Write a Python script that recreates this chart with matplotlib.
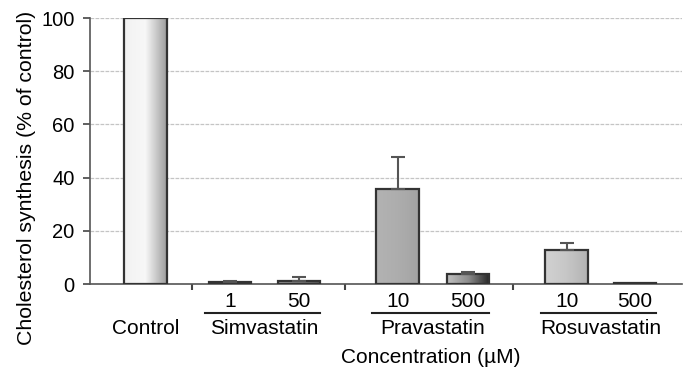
import numpy as np
import matplotlib.pyplot as plt
from matplotlib.colors import LinearSegmentedColormap

plt.rcParams['font.family'] = ['Liberation Sans', 'DejaVu Sans']

# data
groups = ['Simvastatin', 'Pravastatin', 'Rosuvastatin']
conc_labels = ['1', '50', '10', '500', '10', '500']
values = [100, 0.7, 1.3, 35.7, 3.7, 12.8, 0.3]
errors = [0, 0.4, 1.2, 12.0, 0.9, 2.7, 0]
positions = [0.80, 2.03, 3.03, 4.46, 5.48, 6.91, 7.90]
group_ticks = [1.48, 3.70, 6.13]
# gradient (left, mid, right) grey levels per bar
shades = [(0.95, 0.97, 0.62), (0.55, 0.5, 0.35), (0.6, 0.5, 0.35),
          (0.70, 0.68, 0.64), (0.75, 0.55, 0.15), (0.82, 0.78, 0.70), (0.4, 0.4, 0.4)]

fig = plt.figure(figsize=(6.88, 3.73), dpi=100)
ax = fig.add_axes([90/688, (373-284)/373, 592/688, 266/373])
ax.set_xlim(0, 8.58)
ax.set_ylim(0, 100)

w = 0.62
for x, v, e, sh in zip(positions, values, errors, shades):
    cmap = LinearSegmentedColormap.from_list('g', [(sh[0],)*3, (sh[1],)*3, (sh[2],)*3])
    grad = np.linspace(0, 1, 64).reshape(1, -1)
    im = ax.imshow(grad, cmap=cmap, extent=[x - w/2, x + w/2, 0, v],
                   aspect='auto', zorder=2, vmin=0, vmax=1)
    bar = ax.bar(x, v, width=w, facecolor='none', edgecolor='#333333', linewidth=1.6, zorder=3)
    im.set_clip_path(bar.patches[0])
    if e > 0:
        ax.errorbar(x, v, yerr=[[0], [e]], fmt='none', ecolor='#555555',
                    elinewidth=1.5, capsize=5, capthick=1.5, zorder=4)

ax.set_aspect('auto')
ax.set_yticks([0, 20, 40, 60, 80, 100])
ax.tick_params(axis='y', labelsize=14.5, length=5, width=1.2, color='#444444', pad=6)
ax.yaxis.grid(True, color='#c4c4c4', linewidth=0.9, linestyle=(0, (3, 1)))
ax.set_axisbelow(True)
ax.set_xticks(group_ticks)
ax.set_xticklabels([])
ax.tick_params(axis='x', length=4, width=1.5, color='#444444', direction='out')
for s in ['top', 'right']:
    ax.spines[s].set_visible(False)
for s in ['left', 'bottom']:
    ax.spines[s].set_color('#555555')
    ax.spines[s].set_linewidth(1.2)

ax.set_ylabel('Cholesterol synthesis (% of control)', fontsize=15.3)
ax.yaxis.set_label_coords(-0.092, 0.40)

# category labels
tr = ax.get_xaxis_transform()
for x, lab in zip(positions[1:], conc_labels):
    ax.text(x, -0.03, lab, transform=tr, ha='center', va='top', fontsize=15)
ax.text(positions[0], -0.132, 'Control', transform=tr, ha='center', va='top', fontsize=15)
for i, g in enumerate(groups):
    x0, x1 = positions[1 + 2*i], positions[2 + 2*i]
    ax.plot([x0 - 0.37, x1 + 0.3], [-0.11, -0.11], transform=tr, color='#222222',
            linewidth=1.5, clip_on=False)
    ax.text((x0 + x1) / 2, -0.132, g, transform=tr, ha='center', va='top', fontsize=15)
ax.text(0.576, -0.242, 'Concentration (\u00b5M)', transform=ax.transAxes,
        ha='center', va='top', fontsize=15)

fig.savefig('out.png', dpi=100)
